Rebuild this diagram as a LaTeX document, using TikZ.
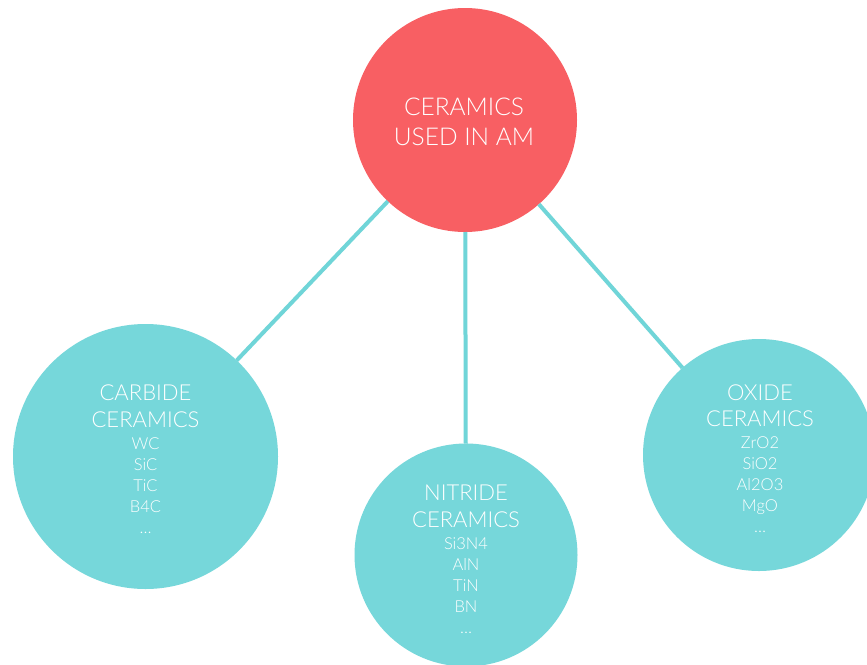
\documentclass[tikz,border=0pt]{standalone}
\usepackage{fontspec}
\setmainfont{Lato}[UprightFont={* Light}]
\definecolor{hubred}{HTML}{F85F63}
\definecolor{leafteal}{HTML}{76D7DA}
\definecolor{linkteal}{HTML}{70D5D8}
\begin{document}
\begin{tikzpicture}[x=1pt,y=-1pt,
  hub/.style={circle,fill=hubred,inner sep=0pt,outer sep=0pt},
  leaf/.style={circle,fill=leafteal,inner sep=0pt,outer sep=0pt},
  link/.style={draw=linkteal,line width=4pt},
  hubtext/.style={text=white,anchor=base,inner sep=0pt,font=\fontsize{24.5}{30}\selectfont},
  headtext/.style={text=white,anchor=base,inner sep=0pt,font=\fontsize{22}{27}\selectfont},
  itemtext/.style={text=white,anchor=base,inner sep=0pt,font=\fontsize{16.5}{21}\selectfont}]
\useasboundingbox (0,0) rectangle (867,664);
\fill[white] (0,0) rectangle (867,664);
\clip (0,0) rectangle (867,664);

% circles
\node[hub,minimum size=224pt] (am) at (465,120) {};
\node[leaf,minimum size=265pt] (carbide) at (145.5,456.5) {};
\node[leaf,minimum size=223pt] (nitride) at (466,555) {};
\node[leaf,minimum size=232pt] (oxide) at (759,455) {};

% connectors
\draw[link] (am) -- (carbide);
\draw[link] (am) -- (nitride);
\draw[link] (am) -- (oxide);

% central label
\node[hubtext] (am-l1) at (464,115) {CERAMICS};
\node[hubtext] (am-l2) at (464,145) {USED IN AM};

% carbide ceramics
\node[headtext] (cb-h1) at (145.5,400) {CARBIDE};
\node[headtext] (cb-h2) at (145.5,427) {CERAMICS};
\foreach \t [count=\i] in {WC,SiC,TiC,B4C}
  \node[itemtext] (cb-\i) at (145.5,449+21*\i-21) {\t};
\node[itemtext] (cb-more) at (145.5,533) {\dots};

% nitride ceramics
\node[headtext] (nt-h1) at (466,500) {NITRIDE};
\node[headtext] (nt-h2) at (466,527) {CERAMICS};
\foreach \t [count=\i] in {Si3N4,AlN,TiN,BN}
  \node[itemtext] (nt-\i) at (466,549+21*\i-21) {\t};
\node[itemtext] (nt-more) at (466,633) {\dots};

% oxide ceramics
\node[headtext] (ox-h1) at (760,400) {OXIDE};
\node[headtext] (ox-h2) at (760,426) {CERAMICS};
\foreach \t [count=\i] in {ZrO2,SiO2,Al2O3,MgO}
  \node[itemtext] (ox-\i) at (760,448+21*\i-21) {\t};
\node[itemtext] (ox-more) at (760,532) {\dots};
\end{tikzpicture}
\end{document}
